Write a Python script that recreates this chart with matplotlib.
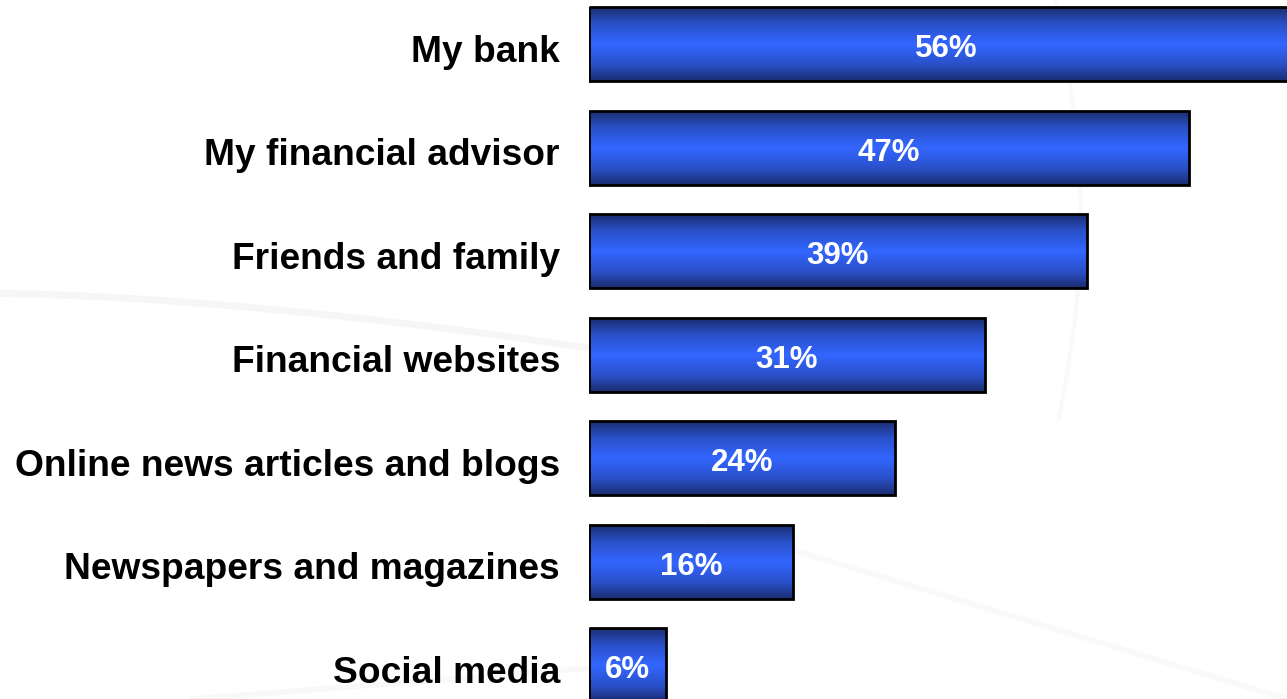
import numpy as np
import matplotlib.pyplot as plt
from matplotlib.colors import LinearSegmentedColormap

plt.rcParams['font.family'] = ['Liberation Sans', 'DejaVu Sans']

categories = ["My bank", "My financial advisor", "Friends and family",
              "Financial websites", "Online news articles and blogs",
              "Newspapers and magazines", "Social media"]
values = [56, 47, 39, 31, 24, 16, 6]
value_labels = ["56%", "47%", "39%", "31%", "24%", "16%", "6%"]

fig = plt.figure(figsize=(12.87, 6.99), dpi=100)
fig.patch.set_facecolor('white')

# faint decorative swooshes behind the chart
bg = fig.add_axes([0, 0, 1, 1], zorder=0)
bg.set_xlim(0, 1); bg.set_ylim(0, 1); bg.axis('off')
t = np.linspace(0, 1, 200)
bg.plot(t * 0.6, 0.58 - 0.12 * t ** 1.6, color='#f6f6f6', lw=5, solid_capstyle='round')
bg.plot(0.82 + 0.02 * np.sin(t * 3), 1 - t * 0.6, color='#f9f9f9', lw=3)
bg.plot(0.15 + 0.35 * t, 0.0 + 0.05 * t, color='#f8f8f8', lw=4)
bg.plot(0.55 + 0.45 * t, 0.25 - 0.25 * t, color='#f9f9f9', lw=4)

ax = fig.add_axes([589 / 1287, 0, 698 / 1287, 1], zorder=1)
ax.set_facecolor('none')
px_per_unit = 12.77
pitch = 103.5
xmax = 698 / px_per_unit
ylims = ((699 - 44) / pitch, -44 / pitch)
ax.axis('off')

cmap = LinearSegmentedColormap.from_list(
    'barblue', [(0.0, '#1a2c6e'), (0.22, '#2a50c8'), (0.5, '#3366ff'),
                (0.78, '#2a50c8'), (1.0, '#1a2c6e')])
grad = np.linspace(0, 1, 256).reshape(-1, 1)

y = np.arange(len(categories))
bar_h = 74 / pitch
bars = ax.barh(y, values, height=bar_h, left=0, facecolor='none',
               edgecolor='black', linewidth=2.0, zorder=3)
for b, v, lab, yy in zip(bars, values, value_labels, y):
    im = ax.imshow(grad, cmap=cmap, aspect='auto', zorder=2,
                   extent=[0, v, yy + bar_h / 2, yy - bar_h / 2],
                   interpolation='bicubic')
    im.set_clip_path(b)
    ax.text(v / 2, yy + 5 / pitch, lab, ha='center', va='center',
            color='white', fontsize=22.5, fontweight='bold', zorder=4)
ax.set_xlim(0, xmax)
ax.set_ylim(*ylims)

for cat, yy in zip(categories, y):
    ax.text(-29 / px_per_unit, yy + 8 / pitch, cat, ha='right', va='center',
            fontsize=26.7, fontweight='bold', color='black', clip_on=False)

fig.savefig('out.png', dpi=100, facecolor='white')
